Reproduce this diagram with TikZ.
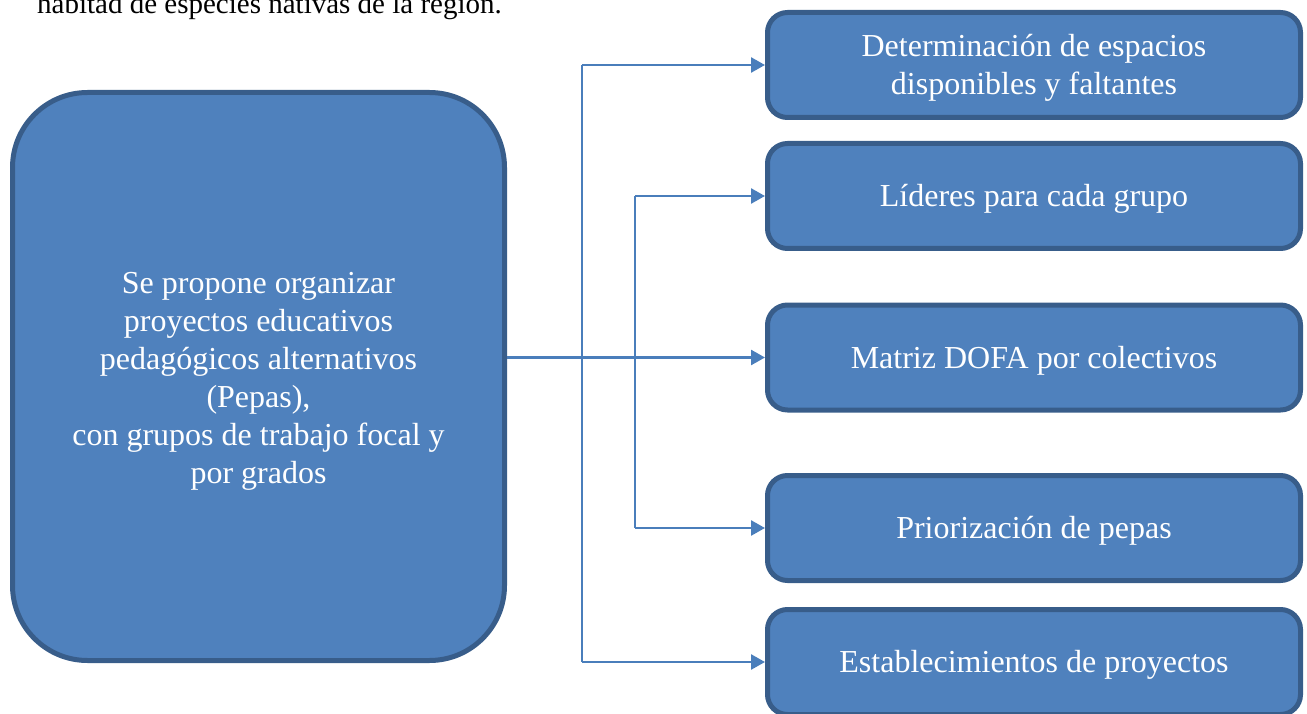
\documentclass[tikz,border=0pt]{standalone}
\usepackage{fontspec}
\setmainfont{Liberation Serif}
\newfontfamily\boxfont{Liberation Serif}
\usetikzlibrary{arrows.meta}
\definecolor{boxfill}{HTML}{4F81BD}
\definecolor{boxedge}{HTML}{385D8A}
\definecolor{linkblue}{HTML}{4A7EBB}
\tikzset{
  x=1pt, y=-1pt,
  card/.style={draw=boxedge, fill=boxfill, line width=5pt, rounded corners=20pt,
    minimum width=533pt, minimum height=105pt, text=white, align=center,
    font=\boxfont\fontsize{32}{38}\selectfont, inner sep=0pt},
  bigcard/.style={card, rounded corners=75pt, minimum width=492pt, minimum height=568pt},
  link/.style={draw=linkblue, line width=2.6pt,
    -{Triangle[length=14pt,width=15pt]}},
  trunk/.style={draw=linkblue, line width=2.6pt}
}
\begin{document}
\begin{tikzpicture}
\useasboundingbox (0,0) rectangle (1307,714);

% running text above the chart
\node[anchor=base west, inner sep=0pt, font=\fontsize{29}{34}\selectfont] (prev) at (37,14)
  {habitad de especies nativas de la región.};

% main proposal
\node[bigcard] (main) at (258.5,376.5) {};
\node[align=center, text=white, font=\boxfont\fontsize{32}{38}\selectfont, inner sep=0pt]
  (maintext) at (258.5,381)
  {Se propone organizar\\proyectos educativos\\pedagógicos alternativos\\(Pepas),\\con grupos de trabajo focal y\\por grados};

% activities
\node[card] (b1) at (1034,65) {};
\node[card] (b2) at (1034,196) {};
\node[card] (b3) at (1034,357.5) {};
\node[card] (b4) at (1034,528) {};
\node[card] (b5) at (1034,662) {};
\tikzset{cardtext/.style={text=white, align=center, inner sep=0pt,
  font=\boxfont\fontsize{32}{38}\selectfont}}
\node[cardtext, yshift=-3pt] (t1) at (b1) {Determinación de espacios\\disponibles y faltantes};
\node[cardtext, yshift=-3pt] (t2) at (b2) {Líderes para cada grupo};
\node[cardtext, yshift=-3pt] (t3) at (b3) {Matriz DOFA por colectivos};
\node[cardtext, yshift=-3pt] (t4) at (b4) {Priorización de pepas};
\node[cardtext, yshift=-3pt] (t5) at (b5) {Establecimientos de proyectos};

% branch points
\coordinate (outer) at (582,357.5);
\coordinate (inner) at (635,357.5);

% connectors
\draw[trunk] (outer |- b1.west) -- (outer |- b5.west);
\draw[trunk] (inner |- b2.west) -- (inner |- b4.west);
\draw[link] (main.east |- b3.west) -- (b3.west);
\draw[link] (outer |- b1.west) -- (b1.west);
\draw[link] (inner |- b2.west) -- (b2.west);
\draw[link] (inner |- b4.west) -- (b4.west);
\draw[link] (outer |- b5.west) -- (b5.west);
\end{tikzpicture}
\end{document}
